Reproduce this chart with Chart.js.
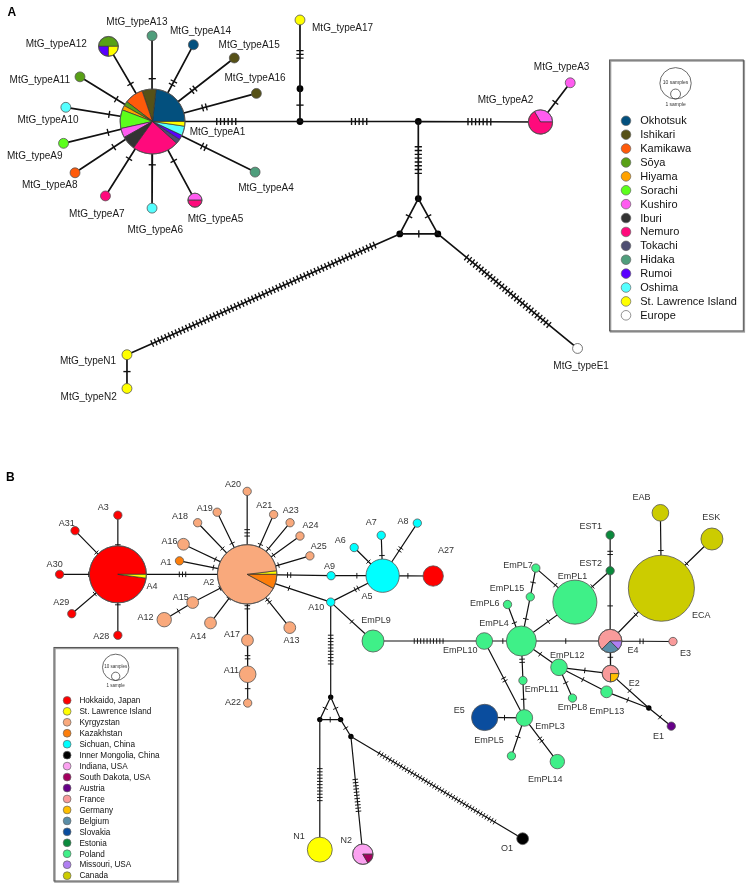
<!DOCTYPE html>
<html>
<head>
<meta charset="utf-8">
<script src="https://cdn.jsdelivr.net/npm/chart.js@4.4.1/dist/chart.umd.min.js"></script>
<style>
  html, body { margin: 0; padding: 0; background: #fff; }
  canvas { display: block; }
</style>
</head>
<body>
<canvas id="net" width="750" height="896"></canvas>
<script>
// ---------- panel A data ----------
const regionsA = ['Okhotsuk', 'Ishikari', 'Kamikawa', 'Sōya', 'Hiyama', 'Sorachi', 'Kushiro', 'Iburi',
  'Nemuro', 'Tokachi', 'Hidaka', 'Rumoi', 'Oshima', 'St. Lawrence Island', 'Europe'];

// samples per haplotype and region
const countsA = {
  'MtG_typeA1': { Okhotsuk: 10, Ishikari: 3, Kamikawa: 4, 'Sōya': 1, Hiyama: 1, Sorachi: 4, Kushiro: 2, Iburi: 3,
    Nemuro: 10, Tokachi: 1, Rumoi: 1, Oshima: 2, 'St. Lawrence Island': 1 },
  'MtG_typeA2': { Kushiro: 2, Nemuro: 4 },
  'MtG_typeA3': { Kushiro: 1 },
  'MtG_typeA4': { Hidaka: 1 },
  'MtG_typeA5': { Kushiro: 1, Nemuro: 1 },
  'MtG_typeA6': { Oshima: 1 },
  'MtG_typeA7': { Nemuro: 1 },
  'MtG_typeA8': { Kamikawa: 1 },
  'MtG_typeA9': { Sorachi: 1 },
  'MtG_typeA10': { Oshima: 1 },
  'MtG_typeA11': { 'Sōya': 1 },
  'MtG_typeA12': { 'Sōya': 2, Rumoi: 1, 'St. Lawrence Island': 1 },
  'MtG_typeA13': { Hidaka: 1 },
  'MtG_typeA14': { Okhotsuk: 1 },
  'MtG_typeA15': { Ishikari: 1 },
  'MtG_typeA16': { Ishikari: 1 },
  'MtG_typeA17': { 'St. Lawrence Island': 1 },
  'MtG_typeN1': { 'St. Lawrence Island': 1 },
  'MtG_typeN2': { 'St. Lawrence Island': 1 },
  'MtG_typeE1': { Europe: 1 }
};

// network layout (x, y)
const layoutA = {
  'MtG_typeA1': [150.5, 119], 'MtG_typeA2': [542, 119.5], 'MtG_typeA3': [572, 80], 'MtG_typeA4': [254, 170],
  'MtG_typeA5': [193.3, 198.3], 'MtG_typeA6': [150, 206.3], 'MtG_typeA7': [103, 194], 'MtG_typeA8': [72.3, 170.7],
  'MtG_typeA9': [60.7, 141], 'MtG_typeA10': [63, 104.7], 'MtG_typeA11': [77.3, 74], 'MtG_typeA12': [106, 43.3],
  'MtG_typeA13': [150, 32.7], 'MtG_typeA14': [191.7, 41.7], 'MtG_typeA15': [233, 55], 'MtG_typeA16': [255.3, 90.7],
  'MtG_typeA17': [299.3, 16.7], 'MtG_typeN1': [124.7, 354], 'MtG_typeN2': [124.7, 388], 'MtG_typeE1': [579.4, 347.7],
  'j1': [299.3, 119], 'j2': [299.3, 86], 'j3': [418.7, 119], 'j4': [418.7, 196.7], 'j5': [400, 232.3], 'j6': [438.4, 232.3]
};

// [from, to, mutation steps]
const edgesA = [
  ['MtG_typeA1', 'MtG_typeA13', 1], ['MtG_typeA1', 'MtG_typeA14', 2], ['MtG_typeA1', 'MtG_typeA15', 2],
  ['MtG_typeA1', 'MtG_typeA16', 2], ['MtG_typeA1', 'MtG_typeA12', 1], ['MtG_typeA1', 'MtG_typeA11', 1],
  ['MtG_typeA1', 'MtG_typeA10', 1], ['MtG_typeA1', 'MtG_typeA9', 1], ['MtG_typeA1', 'MtG_typeA8', 1],
  ['MtG_typeA1', 'MtG_typeA7', 1], ['MtG_typeA1', 'MtG_typeA6', 1], ['MtG_typeA1', 'MtG_typeA5', 1],
  ['MtG_typeA1', 'MtG_typeA4', 2], ['MtG_typeA1', 'j1', 6], ['j1', 'j2', 1], ['j2', 'MtG_typeA17', 3],
  ['j1', 'j3', 5], ['j3', 'MtG_typeA2', 7], ['MtG_typeA2', 'MtG_typeA3', 1], ['j3', 'j4', 8],
  ['j4', 'j5', 1], ['j4', 'j6', 1], ['j5', 'j6', 1], ['j5', 'MtG_typeN1', 65], ['j6', 'MtG_typeE1', 29],
  ['MtG_typeN1', 'MtG_typeN2', 1]
];

const labelsA = [
  ['MtG_typeA1', 216, 130.3], ['MtG_typeA2', 506.7, 97.3], ['MtG_typeA3', 563.3, 64.3], ['MtG_typeA4', 265, 186],
  ['MtG_typeA5', 214, 217.5], ['MtG_typeA6', 153.3, 228.3], ['MtG_typeA7', 94.3, 212.3], ['MtG_typeA8', 46.7, 183.3],
  ['MtG_typeA9', 31.7, 154.3], ['MtG_typeA10', 45, 117.3], ['MtG_typeA11', 36.7, 77.3], ['MtG_typeA12', 53.3, 40.7],
  ['MtG_typeA13', 134.7, 19], ['MtG_typeA14', 199, 28.3], ['MtG_typeA15', 248, 42], ['MtG_typeA16', 254, 75],
  ['MtG_typeA17', 342.3, 25], ['MtG_typeN1', 85.4, 361], ['MtG_typeN2', 86, 396.7], ['MtG_typeE1', 583, 365.7]
];

// ---------- panel B data ----------
const regionKeysB = ['hok', 'sli', 'kyr', 'kaz', 'sic', 'inm', 'ind', 'sdk', 'aut', 'fra', 'ger', 'bel', 'svk', 'est', 'pol', 'mis', 'can'];
const regionsB = ['Hokkaido, Japan', 'St. Lawrence Island', 'Kyrgyzstan', 'Kazakhstan', 'Sichuan, China',
  'Inner Mongolia, China', 'Indiana, USA', 'South Dakota, USA', 'Austria', 'France', 'Germany', 'Belgium',
  'Slovakia', 'Estonia', 'Poland', 'Missouri, USA', 'Canada'];

const countsB = {
  A1: { kaz: 1 }, A2: { sli: 1, kyr: 46, kaz: 4 }, A3: { hok: 1 }, A4: { hok: 46, sli: 1 },
  A5: { sic: 16 }, A6: { sic: 1 }, A7: { sic: 1 }, A8: { sic: 1 }, A9: { sic: 1 }, A10: { sic: 1 },
  A11: { kyr: 4 }, A12: { kyr: 3 }, A13: { kyr: 2 }, A14: { kyr: 2 }, A15: { kyr: 2 }, A16: { kyr: 2 },
  A17: { kyr: 2 }, A18: { kyr: 1 }, A19: { kyr: 1 }, A20: { kyr: 1 }, A21: { kyr: 1 }, A22: { kyr: 1 },
  A23: { kyr: 1 }, A24: { kyr: 1 }, A25: { kyr: 1 }, A27: { hok: 6 }, A28: { hok: 1 }, A29: { hok: 1 },
  A30: { hok: 1 }, A31: { hok: 1 },
  EmPL1: { pol: 28 }, EmPL3: { pol: 4 }, EmPL4: { pol: 13 }, EmPL5: { svk: 10 }, EmPL6: { pol: 1 },
  EmPL7: { pol: 1 }, EmPL8: { pol: 1 }, EmPL9: { pol: 7 }, EmPL10: { pol: 4 }, EmPL11: { pol: 1 },
  EmPL12: { pol: 4 }, EmPL13: { pol: 2 }, EmPL14: { pol: 3 }, EmPL15: { pol: 1 }, u1: { pol: 1 },
  EST1: { est: 1 }, EST2: { est: 1 }, E1: { aut: 1 }, E2: { fra: 3, ger: 1 }, E3: { fra: 1 },
  E4: { fra: 5, bel: 2, mis: 1 }, ECA: { can: 63 }, EAB: { can: 4 }, ESK: { can: 7 },
  N1: { sli: 9 }, N2: { ind: 5, sdk: 1 }, O1: { inm: 2 }
};

const layoutB = {
  A1: [177.7, 561.7], A2: [246, 575.3], A3: [115.5, 515.7], A4: [115.5, 575.3], A5: [382.7, 576.7],
  A6: [354, 548.3], A7: [381.3, 536], A8: [417.7, 523.7], A9: [330.7, 576.7], A10: [330.3, 603.3],
  A11: [246.5, 676], A12: [162.3, 621], A13: [289, 629], A14: [209, 624.3], A15: [191, 603.7],
  A16: [181.7, 545], A17: [246.3, 641.7], A18: [196, 523.3], A19: [215.7, 512.7], A20: [246, 491.7],
  A21: [272.7, 515], A22: [246.5, 705], A23: [289.3, 523.3], A24: [299.3, 536.7], A25: [309.3, 556.7],
  A27: [433.7, 577], A28: [115.5, 636.7], A29: [69, 615], A30: [56.7, 575.3], A31: [72.3, 531.3],
  EmPL1: [576.7, 603.3], EmPL3: [525.7, 720], EmPL4: [522.7, 642.5], EmPL5: [485.7, 719.5], EmPL6: [508.7, 605.7],
  EmPL7: [537.3, 569], EmPL8: [574.3, 700], EmPL9: [373, 642.5], EmPL10: [485.3, 642.5], EmPL11: [524.3, 682.3],
  EmPL12: [560.7, 669], EmPL13: [608.7, 693.7], EmPL14: [559, 764], EmPL15: [531.7, 598], u1: [512.7, 758.3],
  EST1: [612.3, 535.7], EST2: [612.3, 571.7], E1: [674, 728.3], E2: [612.7, 675.3], E3: [675.7, 643],
  E4: [612.3, 642.5], ECA: [664, 589.3], EAB: [663, 513.3], ESK: [715, 539.7],
  N1: [319.3, 852.7], N2: [362.7, 857.3], O1: [524, 841.7],
  k1: [651.3, 710], k2: [330.3, 699], k3: [319.3, 721.7], k4: [340.3, 721.7], k5: [350.7, 738.7]
};

const edgesB = [
  ['A4', 'A2', 3], ['A4', 'A3', 1], ['A4', 'A31', 1], ['A4', 'A30', 1], ['A4', 'A29', 1], ['A4', 'A28', 1],
  ['A2', 'A1', 1], ['A2', 'A16', 1], ['A2', 'A18', 1], ['A2', 'A19', 1], ['A2', 'A20', 3], ['A2', 'A21', 1],
  ['A2', 'A23', 1], ['A2', 'A24', 1], ['A2', 'A25', 1], ['A2', 'A9', 2], ['A9', 'A5', 1], ['A2', 'A10', 1],
  ['A2', 'A15', 1], ['A15', 'A12', 1], ['A2', 'A14', 1], ['A2', 'A17', 2], ['A17', 'A11', 2], ['A11', 'A22', 1],
  ['A2', 'A13', 2], ['A10', 'A5', 2], ['A5', 'A6', 1], ['A5', 'A7', 1], ['A5', 'A8', 2], ['A5', 'A27', 1],
  ['A10', 'EmPL9', 1], ['A10', 'k2', 10], ['EmPL9', 'EmPL10', 10], ['EmPL10', 'EmPL4', 1], ['EmPL10', 'EmPL3', 2],
  ['EmPL4', 'EmPL6', 1], ['EmPL4', 'EmPL15', 1], ['EmPL15', 'EmPL7', 1], ['EmPL7', 'EmPL1', 1], ['EmPL4', 'EmPL1', 1],
  ['EmPL4', 'E4', 1], ['EmPL4', 'EmPL11', 2], ['EmPL11', 'EmPL3', 1], ['EmPL4', 'EmPL12', 1], ['EmPL12', 'EmPL8', 1],
  ['EmPL12', 'E2', 1], ['EmPL12', 'EmPL13', 1], ['EmPL13', 'k1', 1], ['E2', 'k1', 1], ['k1', 'E1', 1],
  ['E4', 'E2', 1], ['E4', 'E3', 2], ['E4', 'EST2', 1], ['EST2', 'EST1', 2], ['EST2', 'EmPL1', 1],
  ['E4', 'ECA', 1], ['ECA', 'EAB', 1], ['ECA', 'ESK', 1], ['EmPL3', 'EmPL5', 1], ['EmPL3', 'u1', 1],
  ['EmPL3', 'EmPL14', 2], ['k2', 'k3', 1], ['k2', 'k4', 1], ['k3', 'k4', 1], ['k4', 'k5', 1],
  ['k3', 'N1', 11], ['k5', 'N2', 11], ['k5', 'O1', 43]
];

const labelsB = [
  ['A1', 164, 563.3], ['A2', 207.3, 583.3], ['A3', 100.7, 507.7], ['A4', 150, 587.3], ['A5', 367, 597.3],
  ['A6', 340, 541.3], ['A7', 371.3, 523.3], ['A8', 403.3, 522], ['A9', 329, 567.3], ['A10', 315.7, 609],
  ['A11', 230, 672.3], ['A12', 143.3, 619], ['A13', 290.7, 641.7], ['A14', 196.7, 638.3], ['A15', 179, 599],
  ['A16', 167.7, 542.3], ['A17', 230.7, 635.7], ['A18', 178.3, 517.3], ['A19', 203.3, 509], ['A20', 231.7, 484.3],
  ['A21', 263.3, 506.3], ['A22', 231.7, 704.3], ['A23', 290, 511], ['A24', 310, 526], ['A25', 318.3, 547.3],
  ['A27', 446.7, 551.7], ['A28', 98.7, 638], ['A29', 58.3, 604], ['A30', 51.7, 565], ['A31', 64, 524],
  ['EmPL1', 574.3, 577], ['EmPL3', 551.7, 728.3], ['EmPL4', 495, 625.3], ['EmPL5', 490, 742.3], ['E5', 460, 712.7],
  ['EmPL6', 485.7, 605], ['EmPL7', 519.3, 566.7], ['EmPL8', 574.3, 709], ['EmPL9', 376, 622.3], ['EmPL10', 461, 652],
  ['EmPL11', 543.3, 691], ['EmPL12', 569, 656.7], ['EmPL13', 609, 713.3], ['EmPL14', 546.7, 781.7], ['EmPL15', 508.3, 590],
  ['EST1', 592.7, 527], ['EST2', 592.7, 564.3], ['E1', 661, 738.3], ['E2', 636.7, 685], ['E3', 688.3, 655],
  ['E4', 635.3, 651.7], ['ECA', 704.3, 617], ['EAB', 644, 498.3], ['ESK', 714.3, 518.3],
  ['N1', 298.3, 839.3], ['N2', 346, 844], ['O1', 508.3, 851.7]
];

// ---------- styles ----------
const colorsA = ['#03507e', '#565117', '#ff5a0a', '#58a016', '#ffa200', '#5cff1c', '#ff5cf0', '#333333',
  '#ff0a7c', '#4e4e72', '#4f9e7c', '#5a00ff', '#55ffff', '#ffff00', '#ffffff'];
const colorsB = ['#ff0000', '#ffff00', '#f9a97c', '#fd7e0b', '#00ffff', '#000000', '#fba2f0', '#a3005f',
  '#660088', '#f99b9b', '#ffbf00', '#5a8ea8', '#0a4d9e', '#0a8a3c', '#3ff088', '#b07ff2', '#cccc00'];
const FONT = "'Liberation Sans', Arial, sans-serif";

const panels = [
  { keys: regionsA, colors: colorsA, counts: countsA, layout: layoutA, edges: edgesA, labels: labelsA,
    unit: 5, gap: 3.8, half: 3.6, lw: 1.7, dot: 3.4, font: '10px ' + FONT, textColor: '#1a1a1a' },
  { keys: regionKeysB, colors: colorsB, counts: countsB, layout: layoutB, edges: edgesB, labels: labelsB,
    unit: 4.2, gap: 3.2, half: 2.8, lw: 1.2, dot: 2.7, font: '9px ' + FONT, textColor: '#333' }
];

function edgePoints(p) {
  const d = [];
  p.edges.forEach(([a, b]) => {
    d.push({ x: p.layout[a][0], y: p.layout[a][1] }, { x: p.layout[b][0], y: p.layout[b][1] }, { x: NaN, y: NaN });
  });
  return d;
}
function junctionPoints(p) {
  return Object.keys(p.layout).filter(k => !p.counts[k]).map(k => ({ x: p.layout[k][0], y: p.layout[k][1] }));
}

function drawPie(ctx, cx, cy, r, parts, stroke) {
  const total = parts.reduce((s, q) => s + q[0], 0);
  let a = 0;
  parts.forEach(([n, col]) => {
    const sw = 2 * Math.PI * n / total;
    ctx.beginPath();
    if (parts.length > 1) ctx.moveTo(cx, cy);
    ctx.arc(cx, cy, r, -a, -a - sw, true);
    ctx.closePath();
    ctx.fillStyle = col;
    ctx.fill();
    if (parts.length > 1) { ctx.lineWidth = 0.7; ctx.strokeStyle = '#333'; ctx.stroke(); }
    a += sw;
  });
  ctx.beginPath();
  ctx.arc(cx, cy, r, 0, 2 * Math.PI);
  ctx.lineWidth = 0.8;
  ctx.strokeStyle = stroke;
  ctx.stroke();
}

const networkPlugin = {
  id: 'network',
  afterDatasetsDraw(chart) {
    const ctx = chart.ctx;
    const xs = chart.scales.x, ys = chart.scales.y;
    const P = (x, y) => ({ x: xs.getPixelForValue(x), y: ys.getPixelForValue(y) });
    const len = v => xs.getPixelForValue(v) - xs.getPixelForValue(0);
    ctx.save();

    panels.forEach(p => {
      // mutation ticks
      ctx.strokeStyle = '#111';
      ctx.lineWidth = p.lw * 0.8;
      p.edges.forEach(([a, b, n]) => {
        const p1 = P(...p.layout[a]), p2 = P(...p.layout[b]);
        const dx = p2.x - p1.x, dy = p2.y - p1.y, L = Math.hypot(dx, dy);
        const ux = dx / L, uy = dy / L, nx = -uy, ny = ux;
        const mx = (p1.x + p2.x) / 2, my = (p1.y + p2.y) / 2;
        ctx.beginPath();
        for (let i = 0; i < n; i++) {
          const t = (i - (n - 1) / 2) * p.gap;
          const cx = mx + ux * t, cy = my + uy * t;
          ctx.moveTo(cx - nx * p.half, cy - ny * p.half);
          ctx.lineTo(cx + nx * p.half, cy + ny * p.half);
        }
        ctx.stroke();
      });
      // haplotype pies
      Object.keys(p.counts).forEach(name => {
        const c = p.counts[name];
        const parts = [];
        p.keys.forEach((k, i) => { if (c[k]) parts.push([c[k], p.colors[i]]); });
        const total = parts.reduce((s, q) => s + q[0], 0);
        const pt = P(...p.layout[name]);
        drawPie(ctx, pt.x, pt.y, len(p.unit * Math.sqrt(total)), parts, '#555');
      });
      // labels
      ctx.font = p.font;
      ctx.fillStyle = p.textColor;
      ctx.textAlign = 'center';
      ctx.textBaseline = 'middle';
      p.labels.forEach(([t, x, y]) => { const pt = P(x, y); ctx.fillText(t, pt.x, pt.y); });
    });

    // panel letters
    ctx.font = 'bold 12px ' + FONT;
    ctx.fillStyle = '#000';
    ctx.fillText('A', xs.getPixelForValue(8.5), ys.getPixelForValue(9.5));
    ctx.fillText('B', xs.getPixelForValue(7), ys.getPixelForValue(477.5));

    // legends
    const legends = [
      { box: [611.7, 57, 746.7, 330], names: regionsA, colors: colorsA, unit: 5, cx: 678.3, bigY: 80.5,
        sx: 628.3, tx: 642.7, y0: 118.3, step: 14, sr: 4.8, font: '11px ' + FONT, tiny: 5, oneY: 101.5 },
      { box: [51, 649, 175.7, 884.3], names: regionsB, colors: colorsB, unit: 4.2, cx: 113.3, bigY: 669,
        sx: 64.3, tx: 76.7, y0: 702.3, step: 11.04, sr: 3.9, font: '8.2px ' + FONT, tiny: 4.5, oneY: 688 }
    ];
    legends.forEach(l => {
      const a = P(l.box[0], l.box[1]), b = P(l.box[2], l.box[3]);
      ctx.fillStyle = '#fff';
      ctx.fillRect(a.x, a.y, b.x - a.x, b.y - a.y);
      ctx.strokeStyle = '#9a9a9a';
      ctx.lineWidth = 1.5;
      ctx.strokeRect(a.x + 1, a.y + 1, b.x - a.x, b.y - a.y);
      ctx.strokeStyle = '#555';
      ctx.lineWidth = 1;
      ctx.strokeRect(a.x, a.y, b.x - a.x, b.y - a.y);
      // sample size key
      const rBig = len(l.unit * Math.sqrt(10)), rOne = len(l.unit);
      const c = P(l.cx, l.bigY);
      ctx.strokeStyle = '#444';
      ctx.lineWidth = 0.8;
      ctx.beginPath(); ctx.arc(c.x, c.y, rBig, 0, 2 * Math.PI); ctx.stroke();
      ctx.beginPath(); ctx.arc(c.x, c.y + rBig - rOne, rOne, 0, 2 * Math.PI); ctx.stroke();
      ctx.fillStyle = '#333';
      ctx.font = l.tiny + 'px ' + FONT;
      ctx.textAlign = 'center';
      ctx.fillText('10 samples', c.x, c.y - 1);
      ctx.fillText('1 sample', c.x, ys.getPixelForValue(l.oneY));
      // entries
      ctx.font = l.font;
      ctx.textAlign = 'left';
      l.names.forEach((n, i) => {
        const y = ys.getPixelForValue(l.y0 + i * l.step);
        ctx.beginPath();
        ctx.arc(xs.getPixelForValue(l.sx), y, l.sr, 0, 2 * Math.PI);
        ctx.fillStyle = l.colors[i];
        ctx.fill();
        ctx.strokeStyle = '#666';
        ctx.lineWidth = 0.7;
        ctx.stroke();
        ctx.fillStyle = '#111';
        ctx.fillText(n, xs.getPixelForValue(l.tx), y + 0.5);
      });
    });
    ctx.restore();
  }
};

new Chart(document.getElementById('net'), {
  type: 'scatter',
  data: {
    datasets: panels.flatMap(p => [
      { data: edgePoints(p), showLine: true, spanGaps: false, borderColor: '#111', borderWidth: p.lw,
        pointRadius: 0, pointHoverRadius: 0, tension: 0 },
      { data: junctionPoints(p), showLine: false, pointRadius: p.dot, pointHoverRadius: p.dot,
        backgroundColor: '#000', borderColor: '#000', borderWidth: 0 }
    ])
  },
  options: {
    responsive: false,
    animation: false,
    events: [],
    layout: { padding: 0 },
    plugins: { legend: { display: false }, tooltip: { enabled: false } },
    scales: {
      x: { type: 'linear', min: 0, max: 750, display: false },
      y: { type: 'linear', min: 0, max: 896, reverse: true, display: false }
    }
  },
  plugins: [networkPlugin]
});
</script>
</body>
</html>
